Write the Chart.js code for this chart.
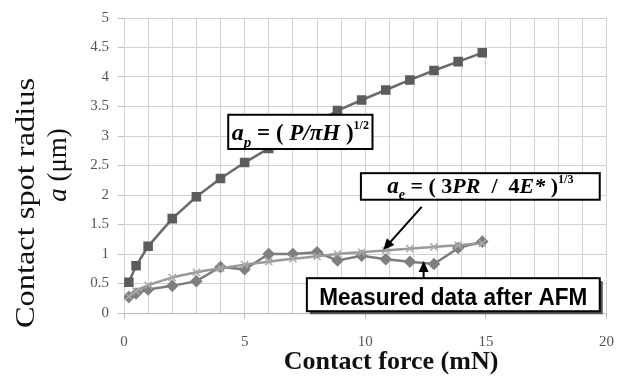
<!DOCTYPE html>
<html>
<head>
<meta charset="utf-8">
<script src="https://cdn.jsdelivr.net/npm/chart.js@4"></script>
<style>
  body { margin: 0; background: #fff; }
  canvas { display: block; }
</style>
</head>
<body>
<canvas id="chart" width="628" height="378"></canvas>
<script>
// contact force (mN)
const force = [0.2, 0.5, 1, 2, 3, 4, 5, 6, 7, 8, 8.85, 9.85, 10.85, 11.85, 12.85, 13.85, 14.85];
// a_p = (P/piH)^1/2
const radiusPlastic = [0.52, 0.8, 1.13, 1.6, 1.97, 2.28, 2.55, 2.79, 3.02, 3.23, 3.43, 3.61, 3.78, 3.95, 4.11, 4.26, 4.41];
// a_e = (3PR/4E*)^1/3
const radiusElastic = [0.28, 0.37, 0.47, 0.6, 0.69, 0.76, 0.82, 0.87, 0.92, 0.96, 1.0, 1.03, 1.06, 1.09, 1.12, 1.15, 1.18];
// measured after AFM
const radiusMeasured = [0.27, 0.33, 0.4, 0.46, 0.54, 0.78, 0.74, 1.0, 1.0, 1.03, 0.89, 0.97, 0.91, 0.87, 0.83, 1.1, 1.21];

const xTicks = [0, 5, 10, 15, 20];
const yTicks = [0, 0.5, 1, 1.5, 2, 2.5, 3, 3.5, 4, 4.5, 5];

function pts(ys) {
  return force.map((x, i) => ({ x: x, y: ys[i] }));
}

const serif = '"Liberation Serif", "Times New Roman", serif';

// draws a row of text pieces [text, font, dy] centred on cx
function drawPieces(ctx, pieces, cx, cy) {
  let total = 0;
  pieces.forEach((p) => {
    ctx.font = p[1];
    total += ctx.measureText(p[0]).width;
  });
  let x = cx - total / 2;
  ctx.textBaseline = "alphabetic";
  ctx.textAlign = "left";
  pieces.forEach((p) => {
    ctx.font = p[1];
    ctx.fillText(p[0], x, cy + (p[2] || 0));
    x += ctx.measureText(p[0]).width;
  });
}

function box(ctx, x1, y1, x2, y2, shadow) {
  if (shadow) {
    ctx.fillStyle = "#555";
    ctx.fillRect(x1 + 3, y1 + 3, x2 - x1, y2 - y1);
  }
  ctx.fillStyle = "#fff";
  ctx.fillRect(x1, y1, x2 - x1, y2 - y1);
  ctx.strokeStyle = "#000";
  ctx.lineWidth = 2;
  ctx.strokeRect(x1, y1, x2 - x1, y2 - y1);
}

function arrow(ctx, x1, y1, x2, y2) {
  const ang = Math.atan2(y2 - y1, x2 - x1);
  ctx.strokeStyle = "#000";
  ctx.fillStyle = "#000";
  ctx.lineWidth = 2;
  ctx.beginPath();
  ctx.moveTo(x1, y1);
  ctx.lineTo(x2 - 6 * Math.cos(ang), y2 - 6 * Math.sin(ang));
  ctx.stroke();
  ctx.beginPath();
  ctx.moveTo(x2, y2);
  ctx.lineTo(x2 - 11 * Math.cos(ang) + 5 * Math.sin(ang), y2 - 11 * Math.sin(ang) - 5 * Math.cos(ang));
  ctx.lineTo(x2 - 11 * Math.cos(ang) - 5 * Math.sin(ang), y2 - 11 * Math.sin(ang) + 5 * Math.cos(ang));
  ctx.closePath();
  ctx.fill();
}

const labelsPlugin = {
  id: "labels",
  afterDraw(chart) {
    const ctx = chart.ctx;
    const xs = chart.scales.x;
    const ys = chart.scales.y;
    const px = (v) => xs.getPixelForValue(v);
    const py = (v) => ys.getPixelForValue(v);
    ctx.save();

    // a_p label
    box(ctx, px(4.32), py(3.36), px(10.3), py(2.78), false);
    ctx.fillStyle = "#000";
    drawPieces(ctx, [
      ["a", "bold italic 24px " + serif, 0],
      ["p", "bold italic 15px " + serif, 7],
      [" = ( ", "bold 23px " + serif, 0],
      ["P/\u03c0H", "bold italic 23px " + serif, 0],
      [" )", "bold 23px " + serif, 0],
      ["1/2", "bold 12px " + serif, -11],
    ], (px(4.32) + px(10.3)) / 2, py(2.93));

    // a_e label
    box(ctx, px(9.82), py(2.37), px(19.72), py(1.92), false);
    ctx.fillStyle = "#000";
    drawPieces(ctx, [
      ["a", "bold italic 23px " + serif, 0],
      ["e", "bold italic 14px " + serif, 6],
      [" = ( 3", "bold 22px " + serif, 0],
      ["PR", "bold italic 22px " + serif, 0],
      ["  /  4", "bold 22px " + serif, 0],
      ["E*", "bold italic 22px " + serif, 0],
      [" )", "bold 22px " + serif, 0],
      ["1/3", "bold 12px " + serif, -10],
    ], (px(9.82) + px(19.72)) / 2, py(2.03));
    arrow(ctx, px(12.34), py(1.8), px(10.75), py(1.07));

    // measured label
    box(ctx, px(7.58), py(0.59), px(19.72), py(0.03), true);
    ctx.fillStyle = "#000";
    ctx.font = "bold 23px \"Liberation Sans\", Arial, sans-serif";
    const t = "Measured data after AFM";
    const w = ctx.measureText(t).width;
    const sx = 268 / w;
    ctx.save();
    ctx.translate((px(7.58) + px(19.72)) / 2, py(0.14));
    ctx.scale(sx, 1);
    ctx.textAlign = "center";
    ctx.textBaseline = "alphabetic";
    ctx.fillText(t, 0, 0);
    ctx.restore();
    arrow(ctx, px(12.42), py(0.59), px(12.42), py(0.88));

    // axis titles
    ctx.fillStyle = "#111";
    ctx.font = "bold 26px " + serif;
    ctx.textAlign = "center";
    ctx.textBaseline = "middle";
    ctx.fillText("Contact force (mN)", 391, 362);

    ctx.font = "27px " + serif;
    ctx.save();
    ctx.translate(27, 203);
    ctx.rotate(-Math.PI / 2);
    const yt = "Contact spot radius";
    const yw = ctx.measureText(yt).width;
    ctx.scale(250 / yw, 1);
    ctx.fillText(yt, 0, 0);
    ctx.restore();

    ctx.save();
    ctx.translate(57, 165);
    ctx.rotate(-Math.PI / 2);
    drawPieces(ctx, [
      ["a", "italic 27px " + serif, 0],
      [" (\u03bcm)", "27px " + serif, 0],
    ], 0, 9);
    ctx.restore();

    ctx.restore();
  },
};

new Chart(document.getElementById("chart"), {
  type: "scatter",
  data: {
    datasets: [
      {
        label: "a_e",
        data: pts(radiusElastic),
        showLine: true,
        tension: 0.4,
        borderColor: "#9a9a9a",
        borderWidth: 2.5,
        pointStyle: "crossRot",
        pointRadius: 5,
        pointBorderColor: "#a8a8a8",
        pointBorderWidth: 1.5,
      },
      {
        label: "measured",
        data: pts(radiusMeasured),
        showLine: true,
        borderColor: "#7d7d7d",
        borderWidth: 2.5,
        pointStyle: "rectRot",
        pointRadius: 4.5,
        pointBackgroundColor: "#7f7f7f",
        pointBorderColor: "#7f7f7f",
      },
      {
        label: "a_p",
        data: pts(radiusPlastic),
        showLine: true,
        borderColor: "#6a6a6a",
        borderWidth: 2.5,
        pointStyle: "rect",
        pointRadius: 5,
        pointBackgroundColor: "#5c5c5c",
        pointBorderColor: "#5c5c5c",
      },
    ],
  },
  options: {
    responsive: false,
    animation: false,
    devicePixelRatio: 1,
    layout: { padding: { left: 0, right: 13, top: 18, bottom: 0 } },
    plugins: {
      legend: { display: false },
      tooltip: { enabled: false },
    },
    scales: {
      x: {
        type: "linear",
        min: 0,
        max: 20,
        afterFit: (s) => { s.height = 65; },
        afterBuildTicks: (s) => {
          s.ticks = [];
          for (let v = 0; v <= 20; v++) s.ticks.push({ value: v });
        },
        ticks: {
          autoSkip: false,
          maxRotation: 0,
          padding: 14,
          color: "#555",
          font: { family: serif, size: 15 },
          callback: (v) => (xTicks.includes(v) ? String(v) : ""),
        },
        grid: {
          color: "#d2d2d2",
          lineWidth: 1,
          tickLength: 6,
          tickColor: (c) => (c.tick && xTicks.includes(c.tick.value) ? "#bbb" : "rgba(0,0,0,0)"),
        },
        border: { color: "#bbb" },
      },
      y: {
        min: 0,
        max: 5,
        afterFit: (s) => { s.width = 124; },
        afterBuildTicks: (s) => {
          s.ticks = yTicks.map((v) => ({ value: v }));
        },
        ticks: {
          padding: 9,
          color: "#555",
          font: { family: serif, size: 15 },
          callback: (v) => String(v),
        },
        grid: {
          color: "#d2d2d2",
          lineWidth: 1,
          tickLength: 6,
          tickColor: "#bbb",
        },
        border: { color: "#d2d2d2" },
      },
    },
  },
  plugins: [labelsPlugin],
});
</script>
</body>
</html>
